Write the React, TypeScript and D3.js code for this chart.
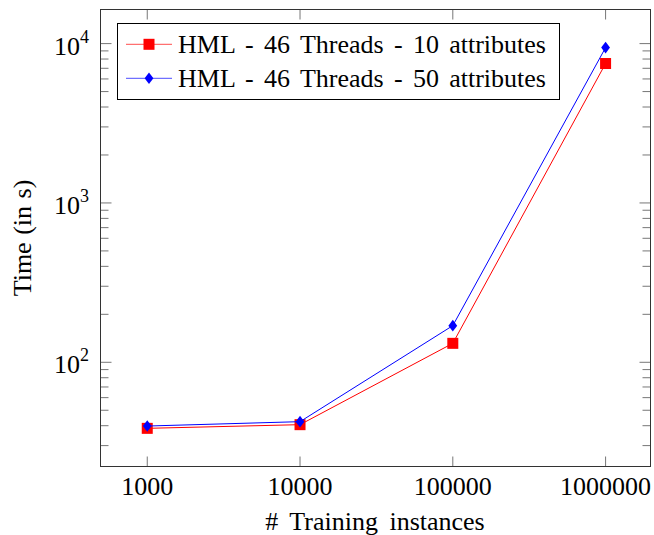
import * as d3 from "d3";

const instances = [1000, 10000, 100000, 1000000];
const xTickLabels = ["1000", "10000", "100000", "1000000"];
const time10 = [38.5, 40.6, 131.5, 7500];
const time50 = [39.8, 42.4, 169.8, 9440];
const yMajorExps = [2, 3, 4];
const legendLabels = [
  "HML - 46 Threads - 10 attributes",
  "HML - 46 Threads - 50 attributes",
];

const width = 654;
const height = 535;
const marginLeft = 100.5;
const marginRight = 3.5;
const marginTop = 9.5;
const marginBottom = 68.5;
const font = "'Liberation Serif', 'Times New Roman', serif";

export default function App() {
  const x = d3
    .scaleLog()
    .domain([10 ** 2.694, 10 ** 6.294])
    .range([marginLeft, width - marginRight]);
  const y = d3
    .scaleLog()
    .domain([10 ** 1.346, 10 ** 4.214])
    .range([height - marginBottom, marginTop]);

  const [x0, x1] = x.range();
  const [y0, y1] = y.range();

  // minor ticks 2..9 of each decade inside the y domain
  const minor: number[] = [];
  for (let e = 1; e <= 4; e++) {
    for (let m = 2; m <= 9; m++) {
      const v = m * 10 ** e;
      if (v > y.domain()[0] && v < y.domain()[1]) minor.push(v);
    }
  }

  const line = d3
    .line<number>()
    .x((_, i) => x(instances[i]))
    .y((d) => y(d));

  const series = [
    { values: time10, color: "#ff0000", marker: "square" },
    { values: time50, color: "#0000ff", marker: "diamond" },
  ];

  const drawMarker = (kind: string, cx: number, cy: number, color: string, key: string) =>
    kind === "square" ? (
      <rect key={key} x={cx - 5.5} y={cy - 5.5} width={11} height={11} fill={color} />
    ) : (
      <path
        key={key}
        d={`M${cx},${cy - 5.8} L${cx + 4.4},${cy} L${cx},${cy + 5.8} L${cx - 4.4},${cy} Z`}
        fill={color}
      />
    );

  const tickColor = "#777";

  return (
    <svg
      width={width}
      height={height}
      style={{ position: "absolute", left: 0, top: 0, background: "white" }}
      fontFamily={font}
    >
      {/* x ticks top and bottom */}
      {instances.map((d) => (
        <g key={d} stroke={tickColor} strokeWidth={1}>
          <line x1={x(d)} x2={x(d)} y1={y0} y2={y0 - 10} />
          <line x1={x(d)} x2={x(d)} y1={y1} y2={y1 + 10} />
        </g>
      ))}
      {/* y major ticks */}
      {yMajorExps.map((e) => (
        <g key={e} stroke={tickColor} strokeWidth={1}>
          <line x1={x0} x2={x0 + 11} y1={y(10 ** e)} y2={y(10 ** e)} />
          <line x1={x1} x2={x1 - 11} y1={y(10 ** e)} y2={y(10 ** e)} />
        </g>
      ))}
      {minor.map((v) => (
        <g key={v} stroke={tickColor} strokeWidth={1}>
          <line x1={x0} x2={x0 + 8} y1={y(v)} y2={y(v)} />
          <line x1={x1} x2={x1 - 8} y1={y(v)} y2={y(v)} />
        </g>
      ))}
      {/* tick labels */}
      {instances.map((d, i) => (
        <text key={d} x={x(d)} y={495} textAnchor="middle" fontSize={26} fill="#000">
          {xTickLabels[i]}
        </text>
      ))}
      {yMajorExps.map((e) => (
        <text key={e} x={89} y={y(10 ** e) + 11} textAnchor="end" fontSize={26} fill="#000">
          10
          <tspan fontSize={18} dy={-12}>
            {e}
          </tspan>
        </text>
      ))}
      {/* series */}
      {series.map((s, si) => (
        <g key={si}>
          <path d={line(s.values) ?? ""} fill="none" stroke={s.color} strokeWidth={1} />
          {s.values.map((v, i) => drawMarker(s.marker, x(instances[i]), y(v), s.color, `${si}-${i}`))}
        </g>
      ))}
      {/* axis box */}
      <rect
        x={x0}
        y={y1}
        width={x1 - x0}
        height={y0 - y1}
        fill="none"
        stroke="#333"
        strokeWidth={1}
      />
      {/* legend */}
      <g>
        <rect x={117.5} y={23.5} width={442} height={76} fill="white" stroke="#000" strokeWidth={1} />
        {series.map((s, i) => {
          const cy = 44.3 + i * 34;
          return (
            <g key={i}>
              <line x1={126} x2={172} y1={cy} y2={cy} stroke={s.color} strokeOpacity={0.7} />
              {drawMarker(s.marker, 149, cy, s.color, `l${i}`)}
              <text x={178} y={cy + 9} fontSize={26} fill="#000" wordSpacing={3.8}>
                {legendLabels[i]}
              </text>
            </g>
          );
        })}
      </g>
      {/* axis labels */}
      <text x={375} y={530} textAnchor="middle" fontSize={26} fill="#000" wordSpacing={5}>
        # Training instances
      </text>
      <text
        transform={`translate(31,${(y0 + y1) / 2}) rotate(-90)`}
        textAnchor="middle"
        fontSize={26}
        fill="#000"
        wordSpacing={1}
      >
        Time (in s)
      </text>
    </svg>
  );
}
